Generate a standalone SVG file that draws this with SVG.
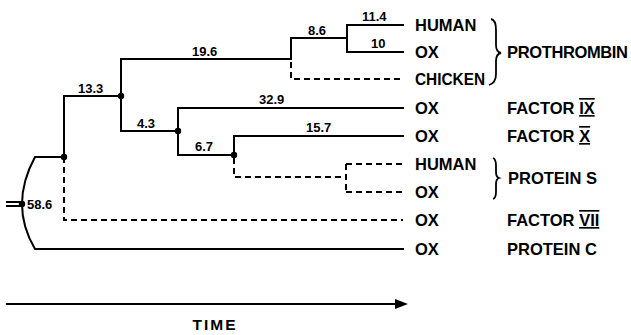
<svg xmlns="http://www.w3.org/2000/svg" width="631" height="335" viewBox="0 0 631 335">
<style>
.ln{fill:none;stroke:#000;stroke-width:2;stroke-linecap:square}
.ds{fill:none;stroke:#000;stroke-width:2;stroke-dasharray:6 4}
.dot{fill:#000}
.lf{font-family:"Liberation Sans",Arial,sans-serif;font-weight:bold;font-size:16.5px;fill:#000}
.nm{font-family:"Liberation Sans",Arial,sans-serif;font-weight:bold;font-size:13px;fill:#000}
.rn{text-decoration:underline overline}
.br{fill:none;stroke:#000;stroke-width:1.8}
</style>
<rect width="631" height="335" fill="#fff"/>
<g id="connectors">
  <path class="ln" d="M64,157 H35 Q9,205 35,249 H403"/>
  <path class="ln" d="M7,202 H22 M7,206 H22"/>
  <path class="ln" d="M64,157 V96 H121"/>
  <path class="ds" d="M64,157 V220 H403"/>
  <path class="ln" d="M121,96 V59 H291 V38 H347"/>
  <path class="ds" d="M291,62 V79 H403"/>
  <path class="ln" d="M347,25 V52 M347,25 H403 M347,52 H403"/>
  <path class="ln" d="M121,96 V131 H178"/>
  <path class="ln" d="M178,131 V108 H403 M178,131 V155 H234"/>
  <path class="ln" d="M234,155 V136 H403"/>
  <path class="ds" d="M234,158 V177 H346"/>
  <path class="ds" d="M346,164 V192 M346,164 H403 M346,192 H403"/>
  <path class="ln" d="M7,304 H398" style="stroke-width:2.2"/>
  <polygon points="395,299 408,304 395,309" fill="#000"/>
</g>
<g id="nodes">
  <circle class="dot" cx="22" cy="204" r="3.2"/>
  <circle class="dot" cx="64" cy="157" r="3.2"/>
  <circle class="dot" cx="121" cy="96" r="3.2"/>
  <circle class="dot" cx="178" cy="131" r="3.2"/>
  <circle class="dot" cx="234" cy="155" r="3.2"/>
</g>
<g id="branch-labels">
  <text class="nm" x="27" y="209">58.6</text>
  <text class="nm" x="78" y="93">13.3</text>
  <text class="nm" x="192" y="56">19.6</text>
  <text class="nm" x="137" y="128">4.3</text>
  <text class="nm" x="259" y="104">32.9</text>
  <text class="nm" x="195" y="151">6.7</text>
  <text class="nm" x="306" y="132">15.7</text>
  <text class="nm" x="308" y="35">8.6</text>
  <text class="nm" x="362" y="21">11.4</text>
  <text class="nm" x="371" y="48">10</text>
</g>
<g id="leaf-prothrombin-human"><text class="lf" x="415" y="31">HUMAN</text></g>
<g id="leaf-prothrombin-ox"><text class="lf" x="415" y="58">OX</text></g>
<g id="leaf-prothrombin-chicken"><text class="lf" x="415" y="85" textLength="70" lengthAdjust="spacingAndGlyphs">CHICKEN</text></g>
<g id="leaf-factor9"><text class="lf" x="415" y="114">OX</text><text class="lf" x="507" y="114">FACTOR <tspan class="rn">IX</tspan></text></g>
<g id="leaf-factor10"><text class="lf" x="415" y="142">OX</text><text class="lf" x="507" y="142">FACTOR <tspan class="rn">X</tspan></text></g>
<g id="leaf-proteinS-human"><text class="lf" x="415" y="170">HUMAN</text></g>
<g id="leaf-proteinS-ox"><text class="lf" x="415" y="198">OX</text></g>
<g id="leaf-factor7"><text class="lf" x="415" y="226">OX</text><text class="lf" x="507" y="226">FACTOR <tspan class="rn">VII</tspan></text></g>
<g id="leaf-proteinC"><text class="lf" x="415" y="255">OX</text><text class="lf" x="507" y="255">PROTEIN C</text></g>
<g id="group-prothrombin">
  <path class="br" d="M491,19 Q496,20 496,30 L496,45 Q496,52 501,53 Q496,54 496,61 L496,74 Q496,83 489,85"/>
  <text class="lf" x="507" y="58" textLength="121" lengthAdjust="spacing">PROTHROMBIN</text>
</g>
<g id="group-proteinS">
  <path class="br" d="M493,158 Q496,159 496,166 L496,172 Q496,177 499,178 Q496,179 496,184 L496,192 Q496,198 493,199"/>
  <text class="lf" x="508" y="184">PROTEIN S</text>
</g>
<g id="axis-label"><text class="lf" x="215" y="330" text-anchor="middle" letter-spacing="2" style="font-size:15.5px">TIME</text></g>
</svg>
